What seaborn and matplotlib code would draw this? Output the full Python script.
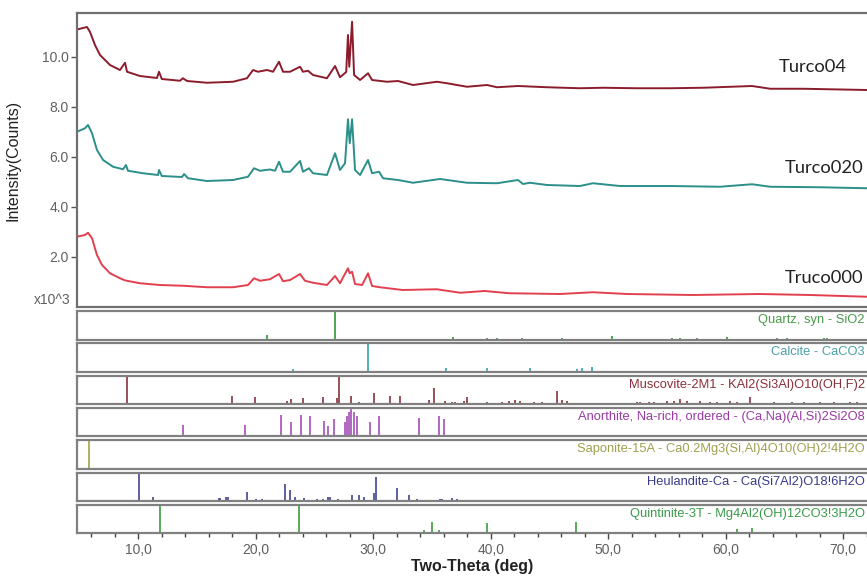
import seaborn as sns
import matplotlib.pyplot as plt
from matplotlib.ticker import MultipleLocator, FuncFormatter

sns.set_theme(style="ticks")
plt.rcParams['font.family'] = ['Liberation Sans', 'DejaVu Sans']

tt_turco04 = [4.78, 5.63, 5.89, 6.31, 6.74, 7.59, 8.44, 8.87, 9.04, 10.14, 11.59, 11.76, 12.0,
              13.55, 13.8, 14.15, 15.85, 18.07, 19.25, 19.77, 20.19, 20.96, 21.47, 21.98, 22.32,
              22.92, 23.77, 24.02, 24.45, 24.87, 26.06, 26.75, 27.17, 27.7, 27.85, 27.96, 28.2,
              28.37, 28.88, 29.56, 29.9, 31.18, 32.11, 33.39, 35.43, 36.28, 37.98, 39.69, 40.54,
              42.33, 44.8, 47.6, 49.56, 52.46, 55.27, 58.08, 62.25, 63.8, 66.6, 72.05]
int_turco04 = [11.1, 11.2, 11.0, 10.48, 10.08, 9.68, 9.48, 9.77, 9.41, 9.24, 9.16, 9.41, 9.12,
               9.05, 9.15, 9.04, 8.97, 9.01, 9.15, 9.48, 9.41, 9.48, 9.41, 9.81, 9.41,
               9.41, 9.61, 9.41, 9.45, 9.28, 9.15, 9.64, 9.19, 9.4, 10.88, 9.61, 11.41,
               9.28, 9.08, 9.35, 9.08, 9.01, 9.04, 8.88, 9.01, 8.95, 8.81, 8.88, 8.79,
               8.84, 8.79, 8.75, 8.77, 8.75, 8.75, 8.77, 8.84, 8.73, 8.73, 8.68]

tt_turco020 = [4.78, 5.46, 5.72, 6.06, 6.48, 7.0, 7.85, 8.7, 8.95, 9.12, 10.4, 11.68, 11.76, 12.0,
               13.72, 13.9, 14.23, 15.85, 18.07, 19.34, 19.85, 20.36, 21.21, 21.64, 21.98, 22.32,
               22.92, 23.77, 24.02, 24.53, 24.87, 26.06, 26.75, 27.17, 27.6, 27.85, 28.0, 28.2,
               28.45, 28.88, 29.56, 29.9, 30.5, 30.84, 32.11, 33.39, 35.69, 37.98, 40.54, 42.33,
               42.75, 43.34, 44.8, 47.6, 48.71, 51.0, 55.27, 59.53, 62.25, 63.8, 68.0, 72.05]
int_turco020 = [7.01, 7.15, 7.28, 6.95, 6.28, 5.88, 5.61, 5.51, 5.68, 5.45, 5.35, 5.28, 5.48, 5.24,
                5.2, 5.32, 5.15, 5.04, 5.08, 5.21, 5.55, 5.45, 5.5, 5.45, 5.81, 5.41,
                5.41, 5.84, 5.41, 5.55, 5.35, 5.28, 6.15, 5.48, 5.75, 7.51, 6.55, 7.51,
                5.48, 5.28, 5.88, 5.35, 5.41, 5.15, 5.08, 4.97, 5.12, 4.97, 4.95, 5.08,
                4.92, 4.97, 4.88, 4.84, 4.95, 4.84, 4.84, 4.81, 4.91, 4.81, 4.79, 4.75]

tt_truco000 = [4.78, 5.46, 5.72, 6.06, 6.48, 6.91, 7.59, 8.44, 8.9, 10.14, 11.85, 13.8, 15.85,
               18.07, 19.34, 19.85, 20.36, 21.21, 21.98, 22.32, 22.92, 23.77, 24.19, 24.87,
               26.06, 26.75, 27.17, 27.85, 28.0, 28.2, 28.45, 29.05, 29.56, 29.9, 30.57, 32.5,
               35.4, 37.4, 39.5, 41.6, 45.9, 48.7, 51.6, 57.2, 62.9, 67.2, 72.05]
int_truco000 = [2.81, 2.88, 2.97, 2.75, 2.08, 1.68, 1.35, 1.15, 1.06, 0.95, 0.88, 0.85, 0.79,
                0.79, 0.88, 1.15, 1.05, 1.11, 1.32, 1.03, 1.08, 1.32, 1.05, 0.97,
                0.88, 1.24, 0.95, 1.55, 1.35, 1.41, 0.92, 0.88, 1.35, 0.84, 0.79, 0.68,
                0.71, 0.57, 0.64, 0.55, 0.52, 0.59, 0.52, 0.48, 0.52, 0.48, 0.41]

trace_names = ["Turco04", "Turco020", "Truco000"]
trace_label_x = [64.5, 65.0, 65.0]
trace_label_y = [9.6, 5.56, 1.16]

# --- reference phase sticks (2theta, relative intensity) ---
quartz_pos = [20.96, 26.77, 36.8, 39.69, 40.54, 42.67, 46.08, 50.34, 55.44, 56.12, 57.57, 60.12,
              64.38, 65.23, 68.38, 68.64]
quartz_int = [0.16, 1.0, 0.1, 0.07, 0.05, 0.06, 0.04, 0.14, 0.04, 0.04, 0.05, 0.09,
              0.05, 0.04, 0.06, 0.05]

calcite_pos = [23.17, 29.56, 31.6, 36.2, 39.69, 43.35, 47.35, 47.78, 48.63, 56.7, 57.6, 61.0,
               63.0, 65.2, 66.1, 68.7, 70.4]
calcite_int = [0.1, 1.0, 0.03, 0.14, 0.12, 0.12, 0.1, 0.14, 0.17, 0.04, 0.04, 0.04,
               0.03, 0.04, 0.03, 0.03, 0.03]

muscovite_pos = [9.04, 17.98, 19.94, 20.79, 21.81, 22.66, 23.0, 24.02, 25.73, 26.92, 27.09, 28.11,
                 28.79, 30.07, 31.43, 32.28, 34.75, 35.18, 36.11, 36.71, 36.97, 37.73, 37.98,
                 39.69, 40.97, 41.56, 42.07, 42.5, 43.69, 44.37, 45.65, 46.08, 46.5, 47.35, 48.46,
                 50.16, 52.46, 52.72, 53.48, 53.91, 55.02, 55.61, 56.12, 56.72, 57.82, 58.68,
                 59.27, 60.38, 60.98, 62.08, 64.13, 65.66, 66.68, 68.04, 69.23, 70.6, 71.2]
muscovite_int = [0.95, 0.3, 0.25, 0.05, 0.05, 0.1, 0.18, 0.2, 0.25, 0.22, 0.95, 0.3,
                 0.06, 0.38, 0.3, 0.28, 0.15, 0.55, 0.1, 0.08, 0.08, 0.1, 0.25,
                 0.08, 0.08, 0.1, 0.15, 0.1, 0.08, 0.08, 0.45, 0.15, 0.1, 0.05, 0.05,
                 0.05, 0.08, 0.08, 0.08, 0.08, 0.12, 0.1, 0.18, 0.1, 0.1, 0.08,
                 0.08, 0.1, 0.08, 0.25, 0.08, 0.06, 0.06, 0.06, 0.06, 0.06, 0.08]

anorthite_pos = [13.8, 19.11, 22.15, 23.03, 23.83, 24.6, 25.78, 26.15, 26.64, 27.58, 27.8, 27.97,
                 28.14, 28.34, 28.62, 29.75, 30.47, 33.87, 35.63, 36.0]
anorthite_int = [0.4, 0.4, 0.75, 0.5, 0.75, 0.7, 0.55, 0.35, 0.6, 0.5, 0.7, 0.85,
                 1.0, 0.85, 0.7, 0.5, 0.7, 0.65, 0.7, 0.6]

saponite_pos = [5.8, 11.59, 17.47, 19.6, 23.34, 29.3, 34.5, 53.14, 60.55, 71.8]
saponite_int = [1.0, 0.03, 0.03, 0.04, 0.03, 0.04, 0.03, 0.04, 0.04, 0.04]

heulandite_pos = [10.02, 11.25, 13.15, 13.44, 15.0, 15.99, 16.84, 16.98, 17.47, 17.64, 19.25, 20.02,
                  20.53, 22.46, 22.94, 23.31, 24.08, 25.21, 25.7, 26.15, 26.29, 26.97, 28.19,
                  28.76, 29.19, 30.04, 30.24, 31.12, 32.05, 33.02, 33.73, 35.71, 35.86, 36.28,
                  36.71, 37.14, 37.99, 39.12, 40.26, 41.39, 42.24, 43.95, 44.65, 45.37, 46.5]
heulandite_int = [0.95, 0.15, 0.05, 0.05, 0.05, 0.05, 0.1, 0.1, 0.15, 0.15, 0.3, 0.06,
                  0.08, 0.6, 0.4, 0.15, 0.1, 0.06, 0.08, 0.15, 0.15, 0.08, 0.2,
                  0.22, 0.15, 0.28, 0.85, 0.05, 0.45, 0.2, 0.08, 0.08, 0.08, 0.05,
                  0.12, 0.08, 0.05, 0.05, 0.05, 0.05, 0.05, 0.05, 0.05, 0.05, 0.05]

quintinite_pos = [11.82, 23.68, 34.3, 35.0, 35.58, 39.69, 47.29, 53.45, 56.72, 60.98, 62.26, 64.52]
quintinite_int = [1.0, 0.95, 0.1, 0.4, 0.1, 0.35, 0.4, 0.05, 0.04, 0.15, 0.2, 0.05]

phase_names = ["Quartz, syn - SiO2",
               "Calcite - CaCO3",
               "Muscovite-2M1 - KAl2(Si3Al)O10(OH,F)2",
               "Anorthite, Na-rich, ordered - (Ca,Na)(Al,Si)2Si2O8",
               "Saponite-15A - Ca0.2Mg3(Si,Al)4O10(OH)2!4H2O",
               "Heulandite-Ca - Ca(Si7Al2)O18!6H2O",
               "Quintinite-3T - Mg4Al2(OH)12CO3!3H2O"]
phase_pos = [quartz_pos, calcite_pos, muscovite_pos, anorthite_pos,
             saponite_pos, heulandite_pos, quintinite_pos]
phase_int = [quartz_int, calcite_int, muscovite_int, anorthite_int,
             saponite_int, heulandite_int, quintinite_int]

trace_colors = ["#8c1c2c", "#2b8f8a", "#e2404e"]
stick_colors = ["#3c9a3c", "#3aa6b4", "#8b3a44", "#a855b8", "#a6a64a", "#4a4a96", "#44a044"]
label_colors = ["#4a9a4a", "#4aa0a8", "#8b2f3a", "#9a3aa5", "#a0a050", "#3a3a8c", "#3a9a4a"]

W, H = 867, 579
XMIN, XMAX = 4.78, 72.04


def box(x0, y0, x1, y1):
    return [x0 / W, 1 - y1 / H, (x1 - x0) / W, (y1 - y0) / H]


fig = plt.figure(figsize=(W / 100, H / 100), dpi=100)

# main pattern panel
ax = fig.add_axes(box(77, 13, 867, 307))
for tt, yy, c in zip([tt_turco04, tt_turco020, tt_truco000],
                     [int_turco04, int_turco020, int_truco000], trace_colors):
    sns.lineplot(x=tt, y=yy, ax=ax, color=c, lw=1.4, estimator=None)
for name, lx, ly in zip(trace_names, trace_label_x, trace_label_y):
    ax.text(lx, ly, name, fontsize=13.2, family=['Lato', 'DejaVu Sans'],
            color="#222222", va="center", ha="left")
ax.set_xlim(XMIN, XMAX)
ax.set_ylim(0, 11.76)
ax.set_yticks([2, 4, 6, 8, 10])
ax.yaxis.set_major_formatter(FuncFormatter(lambda v, p: f"{v:.1f}"))
ax.tick_params(axis="y", direction="out", length=4, width=1, color="#555555",
               labelsize=10, labelcolor="#606060", pad=2)
ax.tick_params(axis="x", bottom=False, labelbottom=False)
ax.set_ylabel("Intensity(Counts)", fontsize=11.5, color="#222222")
ax.yaxis.set_label_coords(-0.072, 0.5)
for s in ["left", "top", "bottom"]:
    ax.spines[s].set_color("#707070")
    ax.spines[s].set_linewidth(1.6)
ax.spines["right"].set_visible(False)
fig.text(70 / W, 1 - 300 / H, "x10^3", fontsize=10, color="#606060", ha="right", va="center")

# phase stick panels
top0, pitch, ph = 311, 32.3, 28.5
for i in range(7):
    t = top0 + i * pitch
    pax = fig.add_axes(box(77, t, 867, t + ph))
    pax.vlines(phase_pos[i], 0, phase_int[i], colors=stick_colors[i], lw=1.25)
    pax.set_xlim(XMIN, XMAX)
    pax.set_ylim(0, 1.0)
    pax.set_yticks([])
    for s in ["left", "top", "bottom"]:
        pax.spines[s].set_color("#808080")
        pax.spines[s].set_linewidth(1.6)
    pax.spines["right"].set_visible(False)
    pax.text(0.997, 0.68, phase_names[i], transform=pax.transAxes, ha="right", va="center",
             fontsize=9.3, color=label_colors[i])
    if i < 6:
        pax.tick_params(axis="x", bottom=False, labelbottom=False)
    else:
        pax.xaxis.set_major_locator(MultipleLocator(10))
        pax.xaxis.set_minor_locator(MultipleLocator(2))
        pax.xaxis.set_major_formatter(FuncFormatter(lambda v, p: f"{v:.1f}".replace(".", ",")))
        pax.tick_params(axis="x", which="major", direction="out", length=4, width=1,
                        color="#444444", labelsize=10, labelcolor="#606060", pad=3)
        pax.tick_params(axis="x", which="minor", direction="out", length=3, width=1,
                        color="#444444")

fig.text(472 / W, 1 - 567 / H, "Two-Theta (deg)", fontsize=11.5, fontweight="bold",
         color="#222222", ha="center", va="center")

fig.savefig("out.png", dpi=100)
